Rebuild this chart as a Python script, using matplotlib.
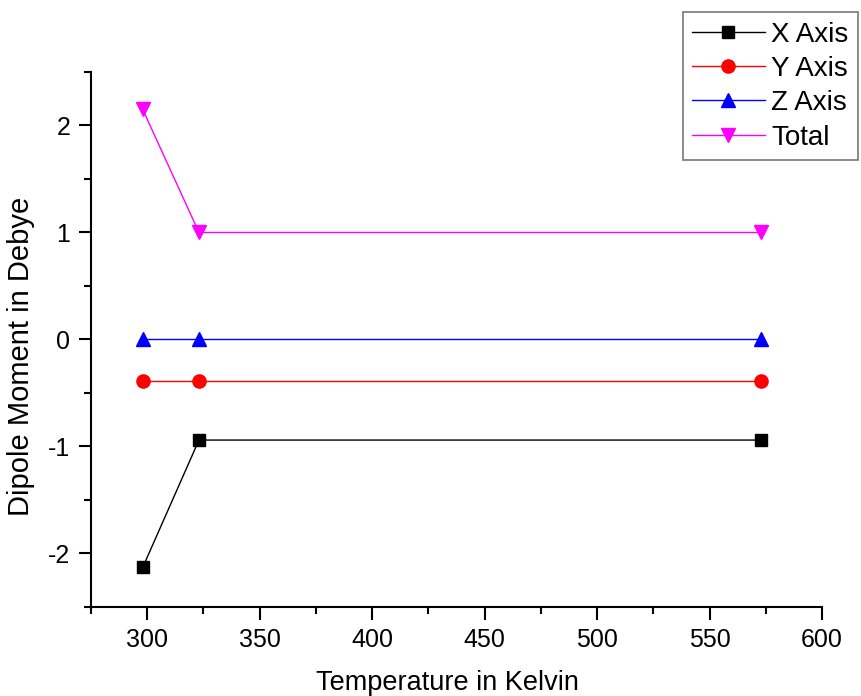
import matplotlib
matplotlib.use("Agg")
import matplotlib.pyplot as plt
from matplotlib.ticker import MultipleLocator

plt.rcParams['font.family'] = ['Liberation Sans', 'DejaVu Sans']
plt.rcParams['axes.unicode_minus'] = False

temperature = [298, 323, 573]
x_axis = [-2.13, -0.94, -0.94]
y_axis = [-0.39, -0.39, -0.39]
z_axis = [0.0, 0.0, 0.0]
total = [2.15, 1.0, 1.0]

fig = plt.figure(figsize=(8.61, 6.96), dpi=100)
ax = fig.add_axes([0.1057, 0.1279, 0.8490, 0.7687])

ax.plot(temperature, x_axis, color='black', lw=1, marker='s', ms=8.5, label='X Axis')
ax.plot(temperature, y_axis, color='red', lw=1, marker='o', ms=9.5, label='Y Axis')
ax.plot(temperature, z_axis, color='blue', lw=1, marker='^', ms=10, label='Z Axis')
ax.plot(temperature, total, color='magenta', lw=1, marker='v', ms=10, label='Total')

ax.set_xlim(275, 600)
ax.set_ylim(-2.5, 2.5)
ax.xaxis.set_major_locator(MultipleLocator(50))
ax.xaxis.set_minor_locator(MultipleLocator(25))
ax.yaxis.set_major_locator(MultipleLocator(1))
ax.yaxis.set_minor_locator(MultipleLocator(0.5))

for s in ['top', 'right']:
    ax.spines[s].set_visible(False)
for s in ['left', 'bottom']:
    ax.spines[s].set_linewidth(1.5)

ax.tick_params(which='major', direction='out', length=9, width=1.5, labelsize=18, pad=6)
ax.tick_params(which='minor', direction='out', length=5, width=1.5)

ax.set_xlabel('Temperature in Kelvin', fontsize=19.5)
ax.set_ylabel('Dipole Moment in Debye', fontsize=21)
ax.xaxis.set_label_coords(0.487, -0.118)
ax.yaxis.set_label_coords(-0.077, 0.469)

leg = fig.legend(loc='upper right', bbox_to_anchor=(0.997, 0.983), fontsize=20,
                 frameon=True, fancybox=False, edgecolor='#555555',
                 handlelength=2.6, handletextpad=0.25, labelspacing=0.3,
                 borderpad=0.35, borderaxespad=0)
leg.get_frame().set_linewidth(1.2)

fig.savefig('out.png', dpi=100)
